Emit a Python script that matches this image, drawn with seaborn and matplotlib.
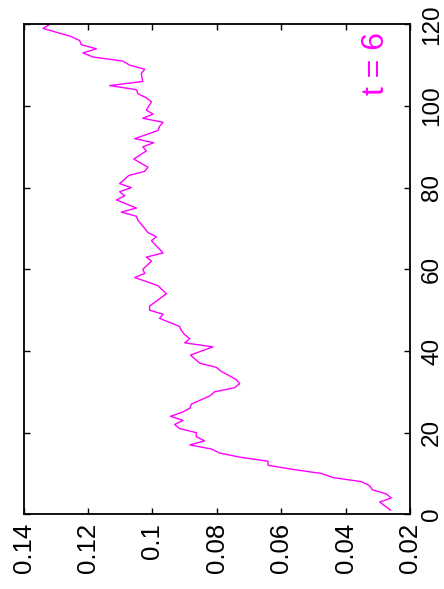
import matplotlib
matplotlib.use("Agg")
import matplotlib.pyplot as plt
import seaborn as sns
import pandas as pd

# Data (original chart: x = index 0..120, y = value 0.02..0.14; figure shown rotated 90 deg CCW)
steps = [1, 3, 4, 5, 6, 7, 8, 9, 10, 11, 12, 13, 14, 15, 16, 17, 18, 19, 20,
         21, 22, 23, 24, 25, 26, 27, 29, 30, 31, 32, 33, 35, 36, 37, 39, 41, 42,
         43, 44, 45, 46, 48, 49, 50, 51, 54, 56, 58, 59, 60, 62, 63, 64, 67, 68,
         69, 70, 72, 73, 74, 75, 77, 78, 79, 80, 81, 83, 84, 85, 87, 89, 90, 91,
         92, 94, 95, 96, 97, 98, 99, 101, 102, 103, 104, 105, 106, 108, 109, 110,
         111, 112, 113, 114, 115, 116, 117, 119, 120]
values = [0.0260, 0.0294, 0.0258, 0.0274, 0.0317, 0.0325, 0.0351, 0.0439, 0.0475,
          0.0564, 0.0641, 0.0641, 0.0729, 0.0791, 0.0817, 0.0884, 0.0838, 0.0864,
          0.0864, 0.0916, 0.0931, 0.0905, 0.0944, 0.0907, 0.0884, 0.0879, 0.0822,
          0.0807, 0.0745, 0.0729, 0.0740, 0.0786, 0.0802, 0.0853, 0.0882, 0.0812,
          0.0900, 0.0884, 0.0900, 0.0910, 0.0916, 0.0978, 0.0967, 0.1009, 0.1009,
          0.0957, 0.0983, 0.1055, 0.1024, 0.1030, 0.1003, 0.1019, 0.0967, 0.1003,
          0.0988, 0.1014, 0.1024, 0.1045, 0.1050, 0.1097, 0.1050, 0.1112, 0.1086,
          0.1102, 0.1066, 0.1102, 0.1073, 0.1024, 0.1014, 0.1058, 0.1019, 0.1030,
          0.0996, 0.1055, 0.0983, 0.0978, 0.0967, 0.1030, 0.0998, 0.1019, 0.1003,
          0.1019, 0.1045, 0.1050, 0.1133, 0.1030, 0.1035, 0.1024, 0.1071, 0.1092,
          0.1185, 0.1216, 0.1174, 0.1221, 0.1226, 0.1252, 0.1340, 0.1319]

value_ticks = [0.14, 0.12, 0.10, 0.08, 0.06, 0.04, 0.02]
value_tick_labels = ["0.14", "0.12", "0.1", "0.08", "0.06", "0.04", "0.02"]
step_ticks = [0, 20, 40, 60, 80, 100, 120]
step_tick_labels = ["0", "20", "40", "60", "80", "100", "120"]
annotation = "t = 6"

df = pd.DataFrame({"step": steps, "value": values})

sns.set_style("ticks")
plt.rcParams["font.family"] = ["Liberation Sans", "DejaVu Sans"]

fig = plt.figure(figsize=(4.44, 5.89), dpi=100)
ax = fig.add_axes([0.0534, 0.1268, 0.8700, 0.8319])

sns.lineplot(data=df, x="value", y="step", orient="y", sort=False,
             estimator=None, color="#ff00ff", linewidth=1.0, ax=ax)

ax.set_xlim(0.14, 0.02)
ax.set_ylim(0, 120)
ax.set_xticks(value_ticks)
ax.set_xticklabels(value_tick_labels)
ax.set_yticks(step_ticks)
ax.set_yticklabels(step_tick_labels)
ax.set_xlabel("")
ax.set_ylabel("")

ax.yaxis.set_label_position("right")
ax.tick_params(axis="both", direction="in", length=4, width=1.0,
               top=True, bottom=True, left=True, right=True,
               labelleft=False, labelright=True, colors="black")
ax.tick_params(axis="x", labelrotation=90, pad=6, labelsize=18.5)
ax.tick_params(axis="y", labelrotation=90, pad=8, labelsize=17.5)
for lab in ax.get_yticklabels():
    lab.set_va("center")
for s in ax.spines.values():
    s.set_linewidth(1.3)
    s.set_color("black")

ax.text(0.0307, 110.5, annotation, rotation=90, color="#ff00ff",
        fontsize=23, ha="center", va="center")

fig.savefig("out.png", dpi=100)
